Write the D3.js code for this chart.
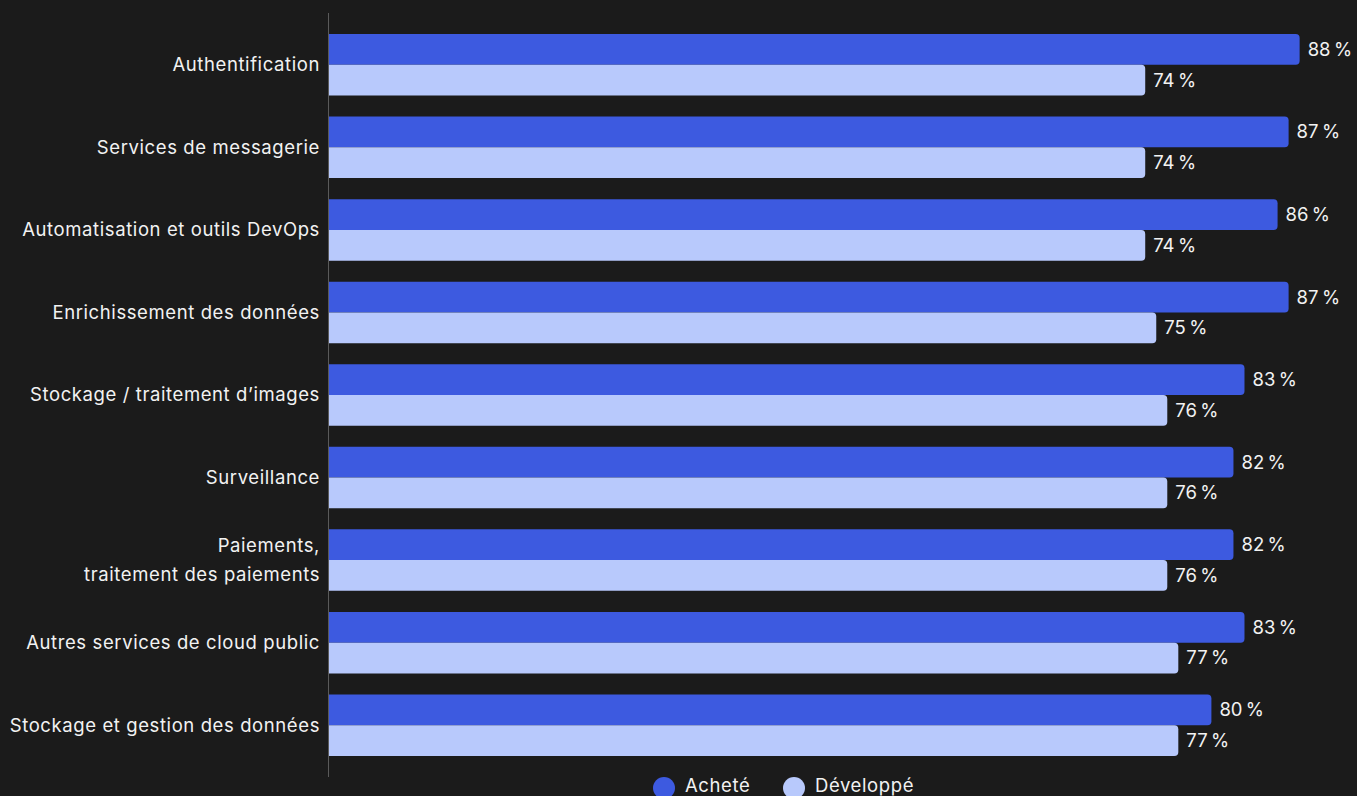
<!DOCTYPE html>
<html><head><meta charset="utf-8">
<script src="https://cdn.jsdelivr.net/npm/d3@7"></script>
<style>
html,body{margin:0;padding:0;background:#1b1b1b;}
svg{display:block;}
text{font-family:Inter, "Noto Sans", sans-serif;fill:#f2f2f2;letter-spacing:0.6px;}
</style></head>
<body>
<svg id="c" width="1357" height="796"></svg>
<script>
const categories = [
  ["Authentification"],
  ["Services de messagerie"],
  ["Automatisation et outils DevOps"],
  ["Enrichissement des données"],
  ["Stockage / traitement d’images"],
  ["Surveillance"],
  ["Paiements,", "traitement des paiements"],
  ["Autres services de cloud public"],
  ["Stockage et gestion des données"]
];
const achete =    [88, 87, 86, 87, 83, 82, 82, 83, 80];
const developpe = [74, 74, 74, 75, 76, 76, 76, 77, 77];
const seriesNames = ["Acheté", "Développé"];
const colors = ["#3d5ae0", "#b8c9fc"];

const FS = 18.5;
const svg = d3.select("#c");
const x0 = 329;
const x = d3.scaleLinear().domain([0, 100]).range([x0, x0 + 1103]);
const keys = categories.map((d,i)=>i);
const y = d3.scaleBand().domain(keys).range([13, 777]).padding(0.255);
const ySub = d3.scaleBand().domain([0,1]).range([0, y.bandwidth()]);

const series = [achete, developpe];

const g = svg.append("g");
series.forEach((vals, si) => {
  g.selectAll(null).data(vals).enter().append("path")
    .attr("fill", colors[si])
    .attr("d", (v,i) => {
      const x1 = x(0), x2 = x(v), yt = y(i) + ySub(si), h = ySub.bandwidth(), r = 4;
      return `M${x1},${yt}H${x2 - r}Q${x2},${yt} ${x2},${yt + r}V${yt + h - r}Q${x2},${yt + h} ${x2 - r},${yt + h}H${x1}Z`;
    });
  g.selectAll(null).data(vals).enter().append("text")
    .attr("x", v => x(v) + 8)
    .attr("y", (v,i) => y(i) + ySub(si) + ySub.bandwidth()/2)
    .attr("dy", "0.35em")
    .attr("font-size", FS)
    .text(v => v + "\u202F%");
});

// axis line
svg.append("line").attr("x1", x0 - 0.5).attr("x2", x0 - 0.5).attr("y1", 13).attr("y2", 777)
  .attr("stroke", "#5a5a5a").attr("stroke-width", 1);

// category labels
categories.forEach((lines, i) => {
  const cy = y(i) + y.bandwidth()/2;
  const t = svg.append("text").attr("text-anchor", "end").attr("font-size", FS);
  lines.forEach((ln, k) => {
    t.append("tspan").attr("x", 320)
      .attr("y", cy + (k - (lines.length - 1)/2) * 29)
      .attr("dy", "0.35em").text(ln);
  });
});

// legend
const leg = [{x: 664}, {x: 794}];
seriesNames.forEach((n, i) => {
  svg.append("circle").attr("cx", leg[i].x).attr("cy", 788).attr("r", 11).attr("fill", colors[i]);
  svg.append("text").attr("x", leg[i].x + 21).attr("y", 786).attr("dy", "0.35em")
    .attr("font-size", FS).text(n);
});
</script>
</body></html>
